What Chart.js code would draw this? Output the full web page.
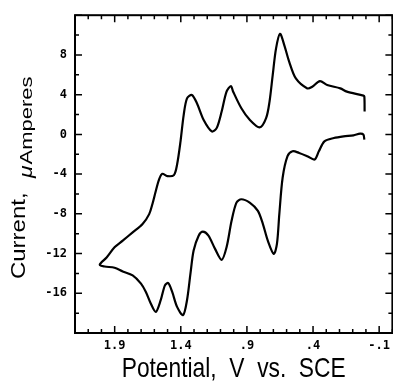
<!DOCTYPE html>
<html><head><meta charset="utf-8">
<script src="https://cdn.jsdelivr.net/npm/chart.js@4/dist/chart.umd.min.js"></script>
<style>
html,body{margin:0;padding:0;background:#fff;overflow:hidden;}
#wrap{position:relative;width:396px;height:382px;}
canvas{display:block;}
</style></head><body>
<div id="wrap"><canvas id="c" width="396" height="382"></canvas></div>
<script>
// Cyclic voltammogram, one continuous scan: upper branch (right -> left vertex), then lower branch back (left -> right)
const scanPotential = [
  0.010, 0.012, 0.019, 0.144, 0.194, 0.293, 0.348, 0.406, 0.443, 0.530,
  0.580, 0.617, 0.650, 0.680, 0.705, 0.729, 0.755, 0.804, 0.879, 0.942,
  1.004, 1.021, 1.054, 1.091, 1.129, 1.166, 1.228, 1.278, 1.316, 1.353,
  1.378, 1.402, 1.428, 1.452, 1.502, 1.540, 1.564, 1.589, 1.615, 1.639,
  1.689, 1.764, 1.839, 1.901, 1.961, 2.013,
  1.976, 1.901, 1.839, 1.764, 1.701, 1.664, 1.627, 1.589, 1.552, 1.520,
  1.495, 1.465, 1.428, 1.383, 1.353, 1.327, 1.303, 1.265, 1.233, 1.191,
  1.141, 1.091, 1.054, 1.016, 0.979, 0.942, 0.879, 0.817, 0.779, 0.742,
  0.697, 0.673, 0.655, 0.630, 0.593, 0.555, 0.505, 0.443, 0.388, 0.356,
  0.314, 0.243, 0.169, 0.094, 0.044, 0.019, 0.012
];
const scanCurrent = [
  2.3, 3.8, 3.9, 4.3, 4.63, 4.97, 5.37, 4.8, 4.63, 5.63,
  7.3, 8.97, 10.13, 8.63, 5.97, 3.3, 1.63, 0.7, 1.47, 2.63,
  4.3, 4.87, 4.3, 2.3, 0.63, 0.3, 1.47, 3.13, 3.97, 3.63,
  1.97, -0.7, -3.03, -4.1, -4.2, -3.97, -4.53, -5.7, -7.03, -8.03,
  -9.03, -9.87, -10.7, -11.37, -12.4, -13.13,
  -13.3, -13.43, -13.8, -14.2, -15.03, -15.87, -17.03, -17.87, -16.7, -15.2,
  -14.97, -15.87, -17.37, -18.2, -16.7, -14.03, -11.7, -10.2, -9.8, -10.2,
  -11.53, -12.63, -11.37, -8.7, -6.87, -6.53, -6.87, -7.7, -9.03, -10.7,
  -12.03, -11.03, -8.03, -4.37, -2.2, -1.7, -1.87, -2.2, -2.53, -1.7,
  -0.7, -0.37, -0.2, -0.1, 0.07, -0.03, -0.53
];
const xTickValues = [1.9, 1.4, 0.9, 0.4, -0.1];
const xTickLabels = ['1.9', '1.4', '.9', '.4', '-.1'];
const yTickValues = [-16, -12, -8, -4, 0, 4, 8];
const yTickLabels = ['-16', '-12', '-8', '-4', '0', '4', '8'];
const xTitle = 'Potential,  V  vs.  SCE';
const yTitleWord = 'Current,';
const yTitleMu = '\u03BC';
const yTitleUnit = 'Amperes';

const points = scanPotential.map((v, i) => ({x: v, y: scanCurrent[i]}));

const frameAndTitle = {
  id: 'frameAndTitle',
  afterDatasetsDraw(chart) {
    const {ctx, chartArea: a, scales: {x, y}} = chart;
    ctx.save();
    ctx.strokeStyle = '#000';
    ctx.lineWidth = 2;
    ctx.strokeRect(a.left, a.top, a.right - a.left, a.bottom - a.top);
    ctx.lineWidth = 1.5;
    ctx.beginPath();
    for (let k = -2; k <= 22; k++) {
      const px = x.getPixelForValue(k / 10);
      const len = ((k + 1) % 5 === 0) ? 7 : 4;
      ctx.moveTo(px, a.bottom); ctx.lineTo(px, a.bottom - len);
      ctx.moveTo(px, a.top); ctx.lineTo(px, a.top + len);
    }
    for (let v = -20; v <= 12; v += 2) {
      const py = y.getPixelForValue(v);
      const len = (v % 4 === 0) ? 7 : 4;
      ctx.moveTo(a.left, py); ctx.lineTo(a.left + len, py);
      ctx.moveTo(a.right, py); ctx.lineTo(a.right - len, py);
    }
    ctx.stroke();
    ctx.restore();

    // x title (condensed)
    ctx.save();
    ctx.fillStyle = '#000';
    ctx.textAlign = 'center';
    ctx.textBaseline = 'alphabetic';
    ctx.font = "28px 'Liberation Sans', Arial, sans-serif";
    const tw = ctx.measureText(xTitle).width;
    ctx.translate((a.left + a.right) / 2, 377);
    ctx.scale(224 / tw, 1);
    ctx.fillText(xTitle, 0, 0);
    ctx.restore();

    // rotated y title
    const cy = (a.top + a.bottom) / 2;
    ctx.save();
    ctx.fillStyle = '#000';
    ctx.textAlign = 'left';
    ctx.textBaseline = 'alphabetic';
    ctx.translate(25, cy + 105);
    ctx.rotate(-Math.PI / 2);
    ctx.scale(1, 0.87);
    ctx.font = "24px 'Liberation Sans', Arial, sans-serif";
    ctx.fillText(yTitleWord, 0, 0);
    ctx.restore();

    ctx.save();
    ctx.fillStyle = '#000';
    ctx.textAlign = 'left';
    ctx.textBaseline = 'alphabetic';
    ctx.translate(32, cy + 4);
    ctx.rotate(-Math.PI / 2);
    ctx.scale(1, 0.78);
    ctx.font = "italic 23px 'Liberation Sans', Arial, sans-serif";
    ctx.fillText(yTitleMu, 0, 0);
    const mw = ctx.measureText(yTitleMu).width;
    ctx.font = "22px 'Liberation Sans', Arial, sans-serif";
    ctx.fillText(yTitleUnit, mw + 1, 0);
    ctx.restore();
  }
};

new Chart(document.getElementById('c'), {
  type: 'scatter',
  data: {
    datasets: [{
      data: points,
      showLine: true,
      borderColor: '#000',
      borderWidth: 2.2,
      pointRadius: 0,
      tension: 0.3,
      fill: false
    }]
  },
  options: {
    responsive: false,
    animation: false,
    devicePixelRatio: 1,
    layout: {padding: {top: 13, right: 0, left: 0, bottom: 0}},
    plugins: {legend: {display: false}, tooltip: {enabled: false}},
    scales: {
      x: {
        type: 'linear', reverse: true, min: -0.2, max: 2.2,
        afterBuildTicks(s) { s.ticks = xTickValues.map(v => ({value: v})); },
        ticks: {
          callback: (v, i) => xTickLabels[i],
          font: {family: "'DejaVu Sans Mono', monospace", size: 12, weight: 'bold'},
          color: '#000', padding: 6, maxRotation: 0, autoSkip: false
        },
        grid: {display: false, drawTicks: false, tickLength: 0},
        border: {display: false},
        title: {display: false, text: xTitle},
        afterFit(s) { s.height = 49; }
      },
      y: {
        type: 'linear', min: -20, max: 12,
        afterBuildTicks(s) { s.ticks = yTickValues.map(v => ({value: v})); },
        ticks: {
          callback: (v, i) => yTickLabels[i],
          font: {family: "'DejaVu Sans Mono', monospace", size: 12, weight: 'bold'},
          color: '#000', padding: 8, autoSkip: false
        },
        grid: {display: false, drawTicks: false, tickLength: 0},
        border: {display: false},
        afterFit(s) { s.width = 75; }
      }
    }
  },
  plugins: [frameAndTitle]
});
</script>
</body></html>
